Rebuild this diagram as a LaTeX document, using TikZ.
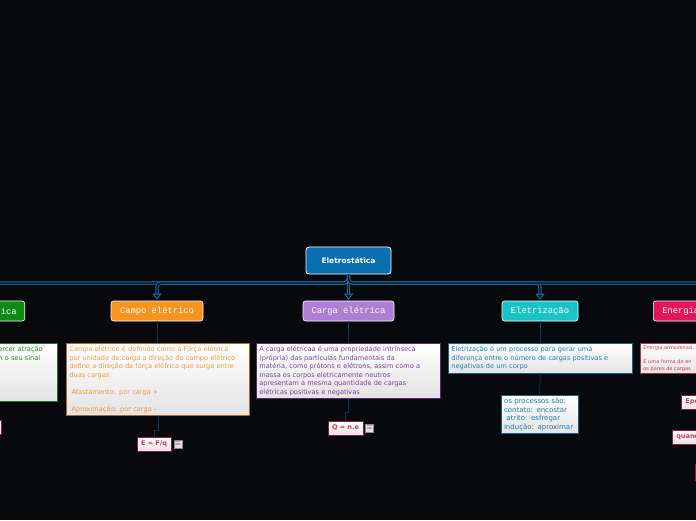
\documentclass[tikz,border=0pt]{standalone}
\usepackage{fontspec}
\setmainfont{DejaVu Sans}
\newfontfamily\monofont{Liberation Mono}
\usepackage{xcolor}
\usetikzlibrary{arrows.meta,positioning}

\definecolor{bgdark}{HTML}{07090D}
\definecolor{rootblue}{HTML}{0A6FB0}
\definecolor{busblue}{HTML}{1A6FA8}
\definecolor{linkblue}{HTML}{0C3454}
\definecolor{topicgreen}{HTML}{0E8A14}
\definecolor{topicorange}{HTML}{F7931E}
\definecolor{topicpurple}{HTML}{AE7DD4}
\definecolor{topicteal}{HTML}{1CC3C6}
\definecolor{topicred}{HTML}{E3165B}
\definecolor{greenedge}{HTML}{2F6A3A}
\definecolor{greentxt}{HTML}{2A7A2A}
\definecolor{orangeedge}{HTML}{A8682E}
\definecolor{orangetxt}{HTML}{F39A3A}
\definecolor{purpleedge}{HTML}{5A2A6A}
\definecolor{purpletxt}{HTML}{7B3F9E}
\definecolor{tealedge}{HTML}{1F5F80}
\definecolor{tealtxt}{HTML}{1F7FB8}
\definecolor{rededge}{HTML}{A3354F}
\definecolor{redtxt}{HTML}{D2385E}
\definecolor{subred}{HTML}{8F1C3C}

\begin{document}
\begin{tikzpicture}[
    x=1pt, y=-1pt,
    root/.style={draw=white, fill=rootblue, rounded corners=3pt, line width=0.8pt, minimum width=85pt, minimum height=27pt, text=white, font=\bfseries\fontsize{7.5}{9}\selectfont},
    topic/.style={draw=white, line width=0.6pt, rounded corners=2.5pt, minimum height=20pt, inner sep=0pt, text=white, font=\monofont\fontsize{8.8}{10}\selectfont},
    note/.style={line width=0.8pt, top color=white, bottom color=black!11, align=left, anchor=north west, inner xsep=3pt, inner ysep=3pt, font=\fontsize{6.6}{8.5}\selectfont},
    formula/.style={draw=subred, line width=0.8pt, top color=white, bottom color=black!10, text=redtxt, minimum height=14pt, inner xsep=4pt, inner ysep=0pt, font=\bfseries\fontsize{6.5}{8}\selectfont},
    icon/.style={draw=black!45, fill=black!12, line width=0.4pt, minimum size=8pt, inner sep=0pt, text=subred, font=\fontsize{7}{7}\selectfont},
    branch/.style={draw=busblue, double=bgdark, double distance=1.4pt, line width=0.9pt, rounded corners=4pt, -{Triangle[open,length=6pt,width=9pt]}, shorten >=1pt},
    link/.style={draw=linkblue, line width=0.8pt}
]
    \useasboundingbox (0,0) rectangle (696,520);
    \clip (0,0) rectangle (696,520);
    \fill[bgdark] (0,0) rectangle (696,520);

    % Central topic
    \node[root] (root) at (348.5,260.5) {Eletrostática};

    % Main topics
    \node[topic, fill=topicgreen, anchor=east, text width=54pt, align=right, inner xsep=8pt] (forca) at (25,311) {ica};
    \node[topic, fill=topicorange, minimum width=92pt] (campo) at (157,311) {Campo elétrico};
    \node[topic, fill=topicpurple, minimum width=91pt] (carga) at (348.5,311) {Carga elétrica};
    \node[topic, fill=topicteal, minimum width=76pt] (eletrizacao) at (540,311) {Eletrização};
    \node[topic, fill=topicred, anchor=west, text width=120pt, align=left, inner xsep=9pt] (energia) at (653,311) {Energia};

    % Definitions
    \node[note, draw=greenedge, text=greentxt, text width=56pt] (forcaDef) at (-5,343) {ercer atração\\n o seu sinal\\[30pt]\mbox{}};
    \node[note, draw=orangeedge, text=orangetxt, text width=177pt] (campoDef) at (66,343) {Campo elétrico é definido como a Força elétrica\\por unidade de carga a direção do campo elétrico\\define a direção da força elétrica que surge entre\\duas cargas.\\[8.5pt]\ Afastamento: por carga +\\[8.5pt]\ Aproximação: por carga -};
    \node[note, draw=purpleedge, text=purpletxt, text width=178pt] (cargaDef) at (256,343) {A carga elétricaa é uma propriedade intrínseca\\(própria) das partículas fundamentais da\\matéria, como prótons e elétrons, assim como a\\massa os corpos eletricamente neutros\\apresentam a mesma quantidade de cargas\\elétricas positivas e negativas};
    \node[note, draw=tealedge, text=tealtxt, text width=178pt] (eletrizacaoDef) at (448,343) {Eletrização é um processo para gerar uma\\diferença entre o número de cargas positivas e\\negativas de um corpo};
    \node[note, draw=rededge, text=redtxt, text width=100pt, inner ysep=2pt, font=\fontsize{5}{7}\selectfont] (energiaDef) at (640,343) {Energia armazenad\\[7pt]É uma forma de en\\os pares de cargas};

    % Formulas and details
    \node[formula, anchor=east, minimum width=30pt] (forcaSub) at (1.5,427) {};
    \node[formula] (efq) at (154,444) {E = F/q};
    \node[icon] (efqNote) at (178,444) {$\equiv$};
    \node[formula] (qne) at (345.5,428) {Q = n.e};
    \node[icon] (qneNote) at (369.5,428) {$\equiv$};
    \node[note, draw=tealedge, text=tealtxt, anchor=north, text width=71pt, font=\fontsize{7}{8.4}\selectfont] (processos) at (539.5,395) {os processos são:\\contato: encostar\\\ atrito: esfregar\\indução: aproximar};
    \node[formula, anchor=west, text width=40pt, align=left] (epe) at (681,402) {Epe};
    \node[formula, anchor=west, text width=40pt, align=left] (quando) at (672,437) {quand};
    \node[formula, anchor=west, minimum width=30pt, minimum height=16pt] (energiaSub) at (695,472) {};

    % Connections
    \foreach \t in {forca,campo,carga,eletrizacao,energia}
        \draw[branch] (root.south) -- (348.5,283) -| (\t.north);
    \draw[link] (campo.south) -- (campo.south |- campoDef.north);
    \draw[link] (carga.south) -- (carga.south |- cargaDef.north);
    \draw[link] (eletrizacao.south) -- (eletrizacao.south |- eletrizacaoDef.north);
    \draw[link] (campoDef.south) -- ++(0,14) -| (efq.north);
    \draw[link] (cargaDef.south) -- ++(0,13) -| (qne.north);
    \draw[link] (eletrizacaoDef.south) -- (processos.north);

\end{tikzpicture}
\end{document}
